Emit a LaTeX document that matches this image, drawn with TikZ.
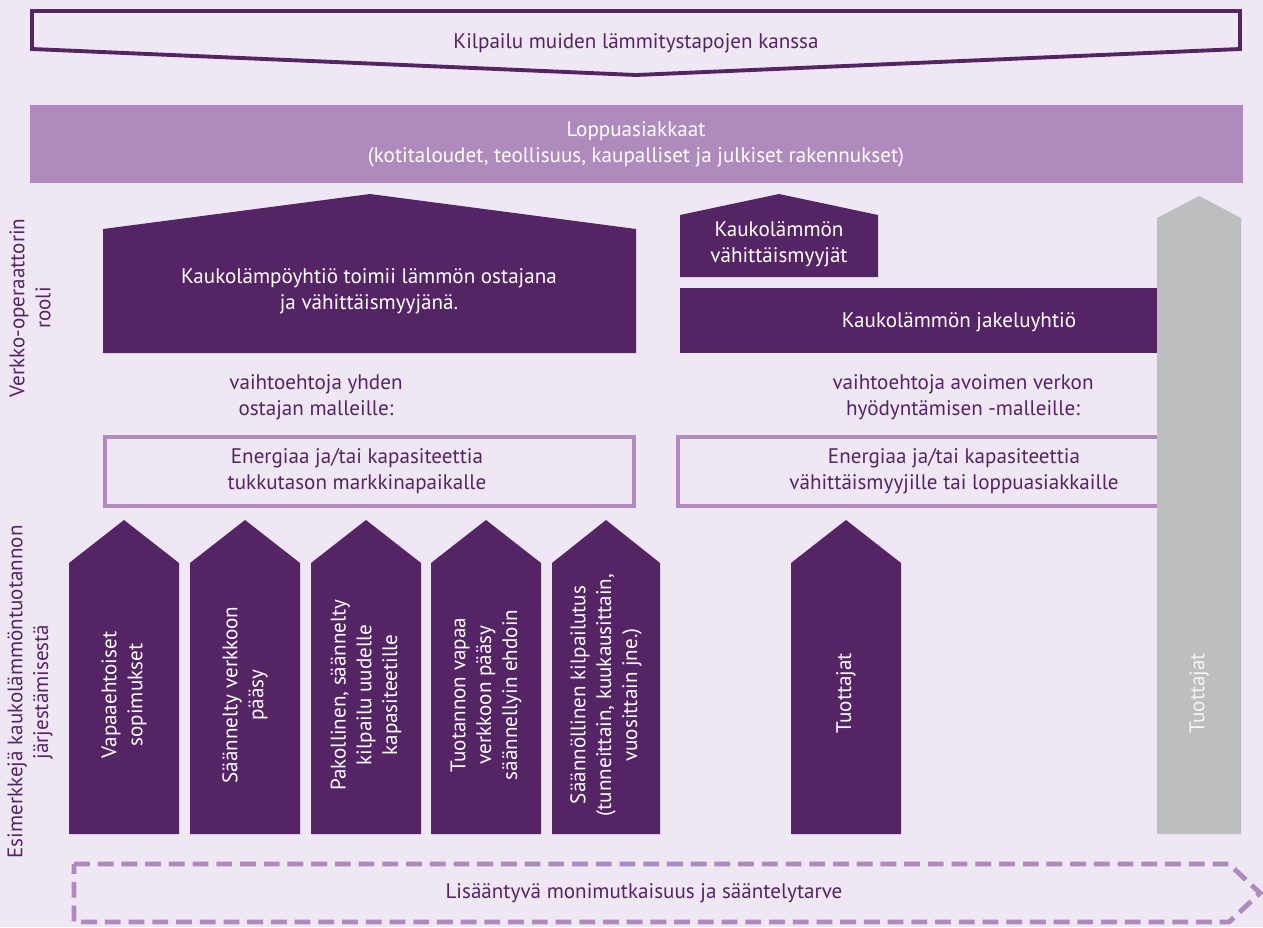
\documentclass[tikz,border=0pt]{standalone}
\usepackage{fontspec}
\setmainfont{PT Sans}
\usepackage{tikz}
\usetikzlibrary{positioning}

\definecolor{lavender}{RGB}{239,231,243}
\definecolor{plum}{RGB}{85,36,101}
\definecolor{lilac}{RGB}{175,138,189}
\definecolor{ash}{RGB}{189,190,192}

\begin{document}
\begin{tikzpicture}[x=0.02cm, y=-0.02cm]
	\tikzstyle{Txt}		= [align=center, inner sep=0pt, font=\fontsize{12}{14.7}\selectfont]
	\tikzstyle{DarkTxt}	= [Txt, text=plum]
	\tikzstyle{WhiteTxt}	= [Txt, text=white]
	\tikzstyle{Up}		= [rotate=90]
	\tikzstyle{Block}	= [fill=plum]
	\tikzstyle{Frame}	= [draw=lilac, line width=2.2pt]
	\tikzstyle{Growth}	= [draw=lilac, line width=2.8pt, dash pattern=on 9pt off 4.5pt]

	% background
	\fill[lavender] (0,0) rectangle (1263,927);
	\useasboundingbox (0,0) rectangle (1263,927);

	% competition chevron
	\draw[plum, line width=2.2pt] (32,11) -- (1240,11) -- (1240,49) -- (636,75) -- (32,49) -- cycle;
	\node (comp) at (636,43) [DarkTxt] {Kilpailu muiden lämmitystapojen kanssa};

	% end customers
	\fill[lilac] (30,105) rectangle (1243,183);
	\node (cust) at (636,144) [WhiteTxt] {Loppuasiakkaat\\(kotitaloudet, teollisuus, kaupalliset ja julkiset rakennukset)};

	% single buyer side
	\fill[Block] (103,353) -- (103,229) -- (370,194) -- (636,229) -- (636,353) -- cycle;
	\node (buyer) at (369,291) [WhiteTxt] {Kaukolämpöyhtiö toimii lämmön ostajana\\ja vähittäismyyjänä.};
	\node (single) at (316,397) [DarkTxt] {vaihtoehtoja yhden\\ostajan malleille:};
	\draw[Frame] (105,437) rectangle (634,506);
	\node (whole) at (357,471) [DarkTxt] {Energiaa ja/tai kapasiteettia\\tukkutason markkinapaikalle};

	% open network side
	\fill[Block] (680,277) -- (680,215) -- (779,194) -- (878,215) -- (878,277) -- cycle;
	\node (retail) at (779,244) [WhiteTxt] {Kaukolämmön\\vähittäismyyjät};
	\fill[Block] (680,288) rectangle (1160,353);
	\node (dist) at (959,322) [WhiteTxt] {Kaukolämmön jakeluyhtiö};
	\node (open) at (963,397) [DarkTxt] {vaihtoehtoja avoimen verkon\\hyödyntämisen -malleille:};
	\draw[Frame] (678,437) rectangle (1170,506);
	\node (sale) at (954,471) [DarkTxt] {Energiaa ja/tai kapasiteettia\\vähittäismyyjille tai loppuasiakkaille};

	% producers bar
	\fill[ash] (1157,834) -- (1157,218) -- (1199,196) -- (1241,218) -- (1241,834) -- cycle;
	\node (prodB) at (1199,693) [Txt, Up, text=white!85!ash] {Tuottajat};

	% side labels
	\node (role) at (30,308) [DarkTxt, Up] {Verkko-operaattorin\\rooli};
	\node (ex) at (30,692) [DarkTxt, Up] {Esimerkkejä kaukolämmöntuotannon\\järjestämisestä};

	% production arrows
	\fill[Block] (69,834) -- (69,563) -- (124,520) -- (179,563) -- (179,834) -- cycle;
	\fill[Block] (190,834) -- (190,563) -- (245,520) -- (300,563) -- (300,834) -- cycle;
	\fill[Block] (311,834) -- (311,563) -- (366,520) -- (421,563) -- (421,834) -- cycle;
	\fill[Block] (431,834) -- (431,563) -- (486,520) -- (541,563) -- (541,834) -- cycle;
	\fill[Block] (552,834) -- (552,563) -- (606,520) -- (660,563) -- (660,834) -- cycle;
	\fill[Block] (791,834) -- (791,563) -- (846,520) -- (901,563) -- (901,834) -- cycle;

	\node (a1) at (124,695) [WhiteTxt, Up] {Vapaaehtoiset\\sopimukset};
	\node (a2) at (245,695) [WhiteTxt, Up] {Säännelty verkkoon\\pääsy};
	\node (a3) at (366,695) [WhiteTxt, Up] {Pakollinen, säännelty\\kilpailu uudelle\\kapasiteetille};
	\node (a4) at (486,695) [WhiteTxt, Up] {Tuotannon vapaa\\verkkoon pääsy\\säännellyin ehdoin};
	\node (a5) at (606,695) [WhiteTxt, Up] {Säännöllinen kilpailutus\\(tunneittain, kuukausittain,\\vuosittain jne.)};
	\node (prodA) at (846,693) [WhiteTxt, Up] {Tuottajat};

	% complexity band
	\draw[Growth] (74,864) -- (1229,864) -- (1260,893) -- (1229,922) -- (74,922) -- cycle;
	\node (cplx) at (644,893) [DarkTxt] {Lisääntyvä monimutkaisuus ja sääntelytarve};
\end{tikzpicture}
\end{document}
